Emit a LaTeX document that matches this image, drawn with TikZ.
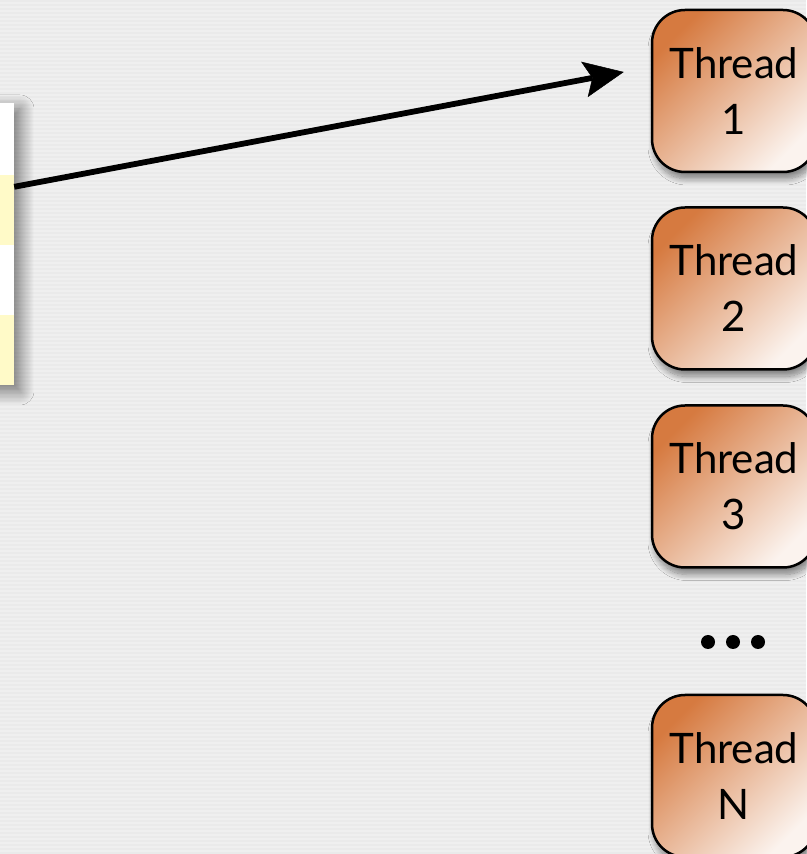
\documentclass[tikz,border=0pt]{standalone}
\usepackage{fontspec}
\setmainfont{Lato}
\usetikzlibrary{calc,arrows.meta,shadows.blur}
\definecolor{bgback}{HTML}{EFEFEF}
\definecolor{bgstripe}{HTML}{EAEAEA}
\definecolor{rowyellow}{HTML}{FFFAC8}
\definecolor{threaddark}{HTML}{D67A40}
\definecolor{threadmid}{HTML}{E8AE8A}
\definecolor{threadlight}{HTML}{FBF3EE}
\tikzset{
  threadbox/.style={rectangle, rounded corners=33pt, draw=black, line width=2.5pt,
    minimum width=164pt, minimum height=162pt, inner sep=0pt,
    top color=threaddark, middle color=threadmid, bottom color=threadlight, shading angle=45,
    blur shadow={shadow xshift=2pt, shadow yshift=-7pt, shadow blur steps=12, shadow blur radius=6pt, shadow opacity=45},
    align=center, font=\fontsize{42}{56}\selectfont, text=black},
  rowbox/.style={rectangle, minimum width=60pt, minimum height=70pt, inner sep=0pt, draw=none},
  dot/.style={circle, fill=black, minimum size=14pt, inner sep=0pt},
  flow/.style={draw=black, fill=black, opacity=1, line width=5.8pt,
    -{Stealth[length=40pt,width=36pt,inset=8pt,line width=0.5pt,fill=black]}}
}
\begin{document}
\begin{tikzpicture}[x=1pt,y=1pt]
  % pinstriped backdrop
  \fill[bgback] (0,0) rectangle (806,854);
  \foreach \s in {0,4,...,852} {
    \fill[bgstripe] (0,\s) rectangle (806,\s+1.6);
  }
  \useasboundingbox (0,0) rectangle (806,854);

  % table on the left, with its soft shadow
  \begin{scope}
    \fill[white, blur shadow={shadow xshift=6pt, shadow yshift=-6pt, shadow blur steps=14, shadow blur radius=14pt, shadow opacity=55}]
      (-46,751) rectangle (14,469);
  \end{scope}
  \node[rowbox, fill=white]      (row1) at (-16,716) {};
  \node[rowbox, fill=rowyellow]  (row2) at (-16,644) {};
  \node[rowbox, fill=white]      (row3) at (-16,574) {};
  \node[rowbox, fill=rowyellow]  (row4) at (-16,504) {};

  % worker threads
  \begin{scope}
    \node[threadbox] (t1) at (734,763)   {Thread\\1};
    \node[threadbox] (t2) at (734,565.5) {Thread\\2};
    \node[threadbox] (t3) at (734,367.5) {Thread\\3};
    \node[threadbox] (tn) at (734,78)    {Thread\\N};
  \end{scope}
  \node[dot] (d1) at (708,212) {};
  \node[dot] (d2) at (733,212) {};
  \node[dot] (d3) at (758,212) {};

  % dispatch arrow
  \begin{scope}
    \coordinate (src) at ($(row2.north east)+(0,-12)$);
    \coordinate (dst) at ($(t1.west)+(-27,19)$);
    \draw[flow] (src) -- (dst);
  \end{scope}
\end{tikzpicture}
\end{document}
